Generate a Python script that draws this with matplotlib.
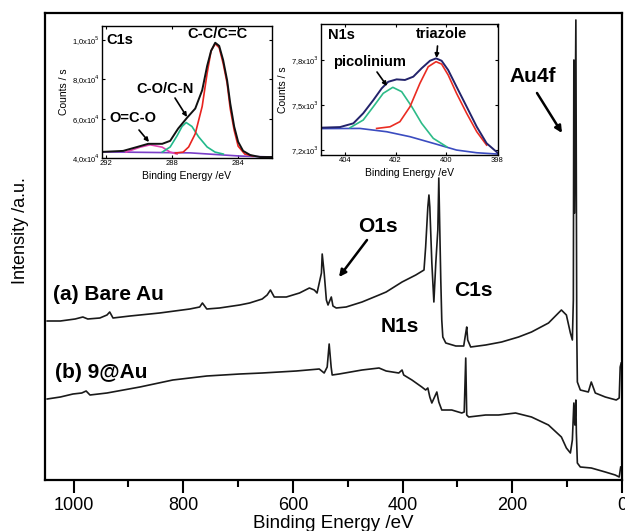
import matplotlib.pyplot as plt

plt.rcParams['font.family'] = ['Liberation Sans', 'DejaVu Sans']

# survey spectra (binding energy / eV, intensity a.u.)
a_be = [1048, 1024, 997, 983, 974, 952, 939, 934, 928, 897, 843, 788, 770, 765, 757,
        734, 697, 679, 656, 647, 641, 634, 612, 588, 570, 561, 556, 548, 546.6, 543,
        539, 536, 530, 527, 521, 503, 474, 443, 430, 401, 376, 361, 358, 354, 352,
        350.4, 346.7, 343, 339.5, 335.8, 334, 332.2, 330.4, 328.6, 326.7, 321.3, 303,
        288.6, 284.9, 283.1, 281.3, 275.9, 248.6, 219.5, 188.6, 165, 134, 110.5, 101.4,
        94.1, 90.5, 88.7, 87.8, 86.5, 84.1, 82.5, 81.4, 76, 61.4, 56, 48.7, 30.5, 10.5,
        5.1, 3.3, 1.5]
a_int = [159, 159, 161, 163, 161, 162, 165, 168, 162, 164, 167, 171, 173, 177, 171,
         172, 175, 177, 181, 185, 190, 183, 183, 187, 192, 190, 187, 207, 226, 207,
         180, 175, 183, 174, 172, 173, 178, 185, 188, 198, 205, 210, 233, 273, 285,
         273, 217, 178, 217, 250, 302, 250, 200, 160, 143, 137, 134,
         134, 147, 153, 140, 133, 135, 138, 143, 148, 157, 170, 165,
         147, 140, 180, 420, 267, 460, 150, 98, 90, 88, 98, 87, 83, 80,
         82, 113, 117]

b_be = [1048, 1024, 1001, 985, 977, 970, 939, 879, 819, 757, 697, 656, 594, 552, 543,
        537.5, 533.9, 530.3, 528.4, 515.7, 474, 443, 430, 407, 401, 398, 383, 365,
        358, 354, 350.4, 346.7, 337.6, 334, 328.6, 310.4, 292.2, 287.7, 284.9, 283.1,
        279.5, 248.6, 225, 194.1, 165, 134.1, 110.5, 101.4, 94.1, 90.5, 87.8, 86,
        84.1, 83.2, 81.4, 76, 56, 30.5, 12.4, 5.1, 2.4]
b_int = [81, 83, 86, 87, 89, 85, 87, 93, 100, 104, 106, 107, 109, 111, 107,
         113, 136, 113, 105, 106, 110, 112, 109, 107, 110, 105, 100, 93,
         90, 92, 83, 77, 88, 78, 70, 70, 67, 68, 122, 65,
         63, 65, 65, 67, 63, 55, 43, 32, 27, 40, 77, 55,
         80, 47, 17, 13, 12, 8, 5, 3, 13]

# C1s high resolution (eV, counts/s x1e4)
c1s_env_be = [292.24, 290.97, 290.12, 289.45, 288.6, 288.12, 287.64, 287.09, 286.6,
              286.18, 285.88, 285.64, 285.39, 285.15, 284.91, 284.67, 284.48, 284.24,
              284.0, 283.7, 283.27, 282.67, 281.94]
c1s_env = [4.31, 4.36, 4.56, 4.72, 4.72, 4.87, 5.49, 6.05, 6.51, 7.44, 8.67, 9.44, 9.85,
           9.69, 8.97, 7.95, 6.77, 5.59, 4.82, 4.36, 4.15, 4.05, 4.05]
c1s_cc_be = [287.8, 287.33, 287.0, 286.6, 286.18, 285.88, 285.64, 285.39, 285.15, 284.91,
             284.67, 284.48, 284.24, 284.0, 283.6, 283.1]
c1s_cc = [4.25, 4.3, 4.56, 5.23, 6.62, 8.3, 9.44, 9.8, 9.6, 8.8, 7.8, 6.5, 5.4, 4.6,
          4.2, 4.1]
c1s_co_be = [288.6, 288.12, 287.7, 287.4, 287.15, 286.8, 286.4, 285.88, 285.4, 284.9]
c1s_co = [4.3, 4.56, 5.13, 5.6, 5.8, 5.6, 5.08, 4.56, 4.3, 4.2]
c1s_oco_be = [290.8, 289.94, 289.33, 288.6, 288.12, 287.7]
c1s_oco = [4.3, 4.55, 4.67, 4.55, 4.3, 4.2]
c1s_bg_be = [292.24, 286.9, 283.9, 281.94]
c1s_bg = [4.31, 4.26, 4.1, 4.05]

# N1s high resolution (eV, counts/s x1e3)
n1s_env_be = [404.96, 404.2, 403.67, 403.28, 402.88, 402.55, 402.29, 401.96, 401.63,
              401.3, 400.97, 400.64, 400.4, 400.18, 399.92, 399.59, 399.19, 398.79,
              398.4, 397.94]
n1s_env = [7.349, 7.353, 7.378, 7.445, 7.533, 7.611, 7.655, 7.671, 7.667, 7.689, 7.745,
           7.795, 7.811, 7.795, 7.733, 7.622, 7.489, 7.355, 7.245, 7.178]
n1s_bg_be = [404.96, 403.41, 402.35, 401.43, 400.51, 399.59, 398.79, 397.94]
n1s_bg = [7.343, 7.344, 7.322, 7.289, 7.245, 7.2, 7.182, 7.173]
n1s_pic_be = [403.8, 403.28, 402.88, 402.49, 402.11, 401.76, 401.36, 400.97, 400.51, 399.98]
n1s_pic = [7.349, 7.4, 7.489, 7.578, 7.618, 7.589, 7.489, 7.378, 7.278, 7.222]
n1s_tri_be = [402.75, 402.22, 401.83, 401.43, 401.04, 400.71, 400.4, 400.18, 399.92,
              399.59, 399.19, 398.79, 398.4]
n1s_tri = [7.344, 7.355, 7.389, 7.489, 7.644, 7.755, 7.789, 7.773, 7.7, 7.578, 7.445,
           7.322, 7.233]

c1s_yticks = [4, 6, 8, 10]
c1s_ylabels = ['4,0x10$^4$', '6,0x10$^4$', '8,0x10$^4$', '1,0x10$^5$']
n1s_yticks = [7.2, 7.5, 7.8]
n1s_ylabels = ['7,2x10$^3$', '7,5x10$^3$', '7,8x10$^3$']

W, H = 625, 531


def fp(x, y):
    # pixel position (from top-left) -> figure fraction
    return (x / W, 1 - y / H)


fig = plt.figure(figsize=(6.25, 5.31), dpi=100)

# main survey
ax = fig.add_axes([45 / W, 1 - 480 / H, 577 / W, 467 / H])
ax.plot(a_be, a_int, color='#1a1a1a', lw=1.2)
ax.plot(b_be, b_int, color='#1a1a1a', lw=1.2)
ax.set_xlim(1052, 0)
ax.set_ylim(0, 467)
ax.set_xticks([1000, 800, 600, 400, 200, 0])
ax.set_xticks([900, 700, 500, 300, 100], minor=True)
ax.set_yticks([])
ax.tick_params(axis='x', which='major', length=9, width=1.5, labelsize=13, pad=3)
ax.tick_params(axis='x', which='minor', length=5, width=1.5)
for s in ax.spines.values():
    s.set_linewidth(1.6)
ax.set_xlabel('Binding Energy /eV', fontsize=13.5, labelpad=1)
fig.text(*fp(21, 231), 'Intensity /a.u.', rotation=90, fontsize=13,
         ha='center', va='center')

big = dict(fontsize=15, fontweight='bold', va='center')
fig.text(*fp(53, 295), '(a) Bare Au', ha='left', **big)
fig.text(*fp(55, 373), '(b) 9@Au', ha='left', **big)
fig.text(*fp(378, 227), 'O1s', ha='center', **big)
fig.text(*fp(473, 290), 'C1s', ha='center', **big)
fig.text(*fp(400, 326), 'N1s', ha='center', **big)
fig.text(*fp(533, 77), 'Au4f', ha='center', **big)

arr = dict(arrowstyle='-|>', color='black', lw=1.8, mutation_scale=10,
           shrinkA=0, shrinkB=0)
fig.add_artist(plt.Annotation('', xy=fp(339, 277), xytext=fp(367, 240),
                              xycoords='figure fraction', arrowprops=arr))
fig.add_artist(plt.Annotation('', xy=fp(562, 133), xytext=fp(537, 93),
                              xycoords='figure fraction', arrowprops=arr))


def inset(rect):
    a = fig.add_axes(rect)
    a.tick_params(direction='in', length=2, width=0.8, labelsize=5.5, pad=1.5,
                  top=True, right=True)
    for s in a.spines.values():
        s.set_linewidth(1.0)
    a.set_xlabel('Binding Energy /eV', fontsize=7.5, labelpad=3)
    a.set_ylabel('Counts / s', fontsize=7.5, labelpad=2)
    return a


# C1s inset
ac = inset([102 / W, 1 - 158 / H, 170 / W, 132 / H])
ac.plot(c1s_bg_be, c1s_bg, color='#7a3fc8', lw=1.2)
ac.plot(c1s_oco_be, c1s_oco, color='#e042b0', lw=1.2)
ac.plot(c1s_co_be, c1s_co, color='#22b98b', lw=1.2)
ac.plot(c1s_cc_be, c1s_cc, color='#e8231f', lw=1.2)
ac.plot(c1s_env_be, c1s_env, color='#111111', lw=1.4)
ac.set_xlim(292.25, 281.95)
ac.set_ylim(4.0, 10.7)
ac.set_xticks([292, 288, 284])
ac.set_yticks(c1s_yticks)
ac.set_yticklabels(c1s_ylabels)

# N1s inset
an = inset([321 / W, 1 - 155 / H, 177 / W, 131 / H])
an.plot(n1s_bg_be, n1s_bg, color='#3b4cc0', lw=1.2)
an.plot(n1s_pic_be, n1s_pic, color='#2dbb88', lw=1.2)
an.plot(n1s_tri_be, n1s_tri, color='#ea2c22', lw=1.2)
an.plot(n1s_env_be, n1s_env, color='#23236b', lw=1.4)
an.set_xlim(404.95, 397.95)
an.set_ylim(7.167, 8.04)
an.set_xticks([404, 402, 400, 398])
an.set_yticks(n1s_yticks)
an.set_yticklabels(n1s_ylabels)

small = dict(fontsize=10.5, fontweight='bold', va='center', ha='center')
fig.text(*fp(120, 40), 'C1s', **small)
fig.text(*fp(217, 34), 'C-C/C=C', **small)
fig.text(*fp(165, 89), 'C-O/C-N', **small)
fig.text(*fp(133, 118), 'O=C-O', **small)
fig.text(*fp(341, 35), 'N1s', **small)
fig.text(*fp(441, 34), 'triazole', **small)
fig.text(*fp(369, 62), 'picolinium', **small)

sarr = dict(arrowstyle='-|>', color='black', lw=1.2, mutation_scale=6,
            shrinkA=0, shrinkB=0)
for tail, tip in [((175, 98), (187, 117)), ((139, 130), (149, 142)),
                  ((437.5, 46), (436.5, 58)), ((377, 72), (387, 86))]:
    fig.add_artist(plt.Annotation('', xy=fp(*tip), xytext=fp(*tail),
                                  xycoords='figure fraction', arrowprops=sarr))

fig.savefig('out.png', dpi=100)
